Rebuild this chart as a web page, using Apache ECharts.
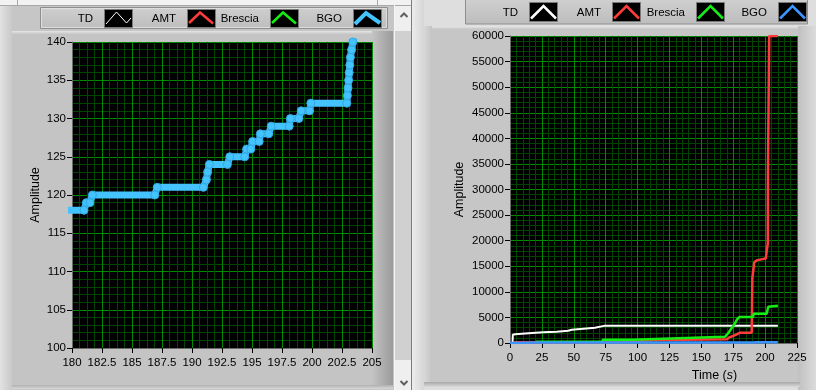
<!DOCTYPE html>
<html><head><meta charset="utf-8">
<script src="https://cdn.jsdelivr.net/npm/echarts/dist/echarts.min.js"></script>
<style>html,body{margin:0;padding:0;background:#c6c6c6;}#c{width:816px;height:390px;}</style>
</head><body><div id="c"></div>
<script>
// ---- data ----
const seriesNames = ['TD', 'AMT', 'Brescia', 'BGO'];
const leftXTicks = [180, 182.5, 185, 187.5, 190, 192.5, 195, 197.5, 200, 202.5, 205];
const leftYTicks = [100, 105, 110, 115, 120, 125, 130, 135, 140];
const rightXTicks = [0, 25, 50, 75, 100, 125, 150, 175, 200, 225];
const rightYTicks = [0, 5000, 10000, 15000, 20000, 25000, 30000, 35000, 40000, 45000, 50000, 55000, 60000];
// [time (s), amplitude]
const tdData = [[0,0],[2,0],[2.2,1600],[4,1700],[14.5,1900],[26,2100],[36.5,2200],[45.7,2400],[48.3,2600],[57.5,2800],[66.6,3000],[73.7,3350],[210,3350]];
const amtData = [[3,150],[74,150],[74.2,350],[89,350],[89.2,600],[118,600],[118.2,750],[170,750],[172,1100],[176,1500],[180,2000],[189.5,2000],[190,12700],[191.5,15800],[194,16200],[200.5,16500],[202,16600],[202.1,19500],[202.2,32800],[203.1,32800],[203.2,60000],[210,60000]];
const brData = [[20,250],[72,250],[73,650],[96,650],[96.5,850],[120,850],[121,1200],[168.5,1200],[171,1900],[174,3000],[176,3700],[178,4600],[180,5100],[190.5,5100],[191,5700],[201.2,5700],[202.5,7100],[203.5,7300],[210,7300]];
const bgoData = [[0,0],[1,60],[20,85],[75,100],[120,108],[170,115],[179.5,118],[181.0,118],[181.2,119],[181.5,119],[181.7,120],[186.9,120],[187.1,121],[190.95,121],[191.2,122],[191.3,123],[191.45,124],[192.95,124],[193.15,125],[194.4,125],[194.55,126],[194.9,126],[195.05,127],[195.6,127],[195.7,128],[196.4,128],[196.6,129],[198.1,129],[198.2,130],[198.9,130],[199.1,131],[199.8,131],[199.9,132],[202.9,132],[202.95,133],[203.0,134],[203.05,135],[203.1,136],[203.15,137],[203.2,138],[203.3,139],[203.4,140],[204,143],[210,150]];
const allData = [tdData, amtData, brData, bgoData];
const rightColors = ['#ffffff', '#ff3b3b', '#14ee14', '#3a96ff'];
const leftColors = ['#ffffff', '#ff3b3b', '#14ee14', '#45c3ff'];

const chart = echarts.init(document.getElementById('c'), null, {renderer: 'canvas'});
const FONT = '"Liberation Sans", Arial, sans-serif';
const major = '#008a00', minor = '#004600';
const plainNum = function (v) { return String(v); };

function xAxisCfg(idx, min, max, interval, split, name) {
  const a = {
    type: 'value', gridIndex: idx, min: min, max: max, interval: interval,
    axisLine: {show: true, onZero: false, lineStyle: {color: '#6a6a6a', width: 1}},
    axisTick: {show: true, length: 5, inside: false, lineStyle: {color: '#000'}},
    minorTick: {show: false, splitNumber: split},
    splitLine: {show: true, lineStyle: {color: major, width: 1}},
    minorSplitLine: {show: true, lineStyle: {color: minor, width: 1}},
    axisLabel: {color: '#000', fontFamily: FONT, fontSize: 11.5, margin: 9, formatter: plainNum}
  };
  if (name) {
    a.name = name; a.nameLocation = 'middle'; a.nameGap = 26;
    a.nameTextStyle = {color: '#000', fontFamily: FONT, fontSize: 12.5, padding: [0, 0, 0, 122],
      rich: {i: {fontStyle: 'italic', fontFamily: FONT, fontSize: 12.5, color: '#000'}}};
  }
  return a;
}
function yAxisCfg(idx, min, max, interval, split, gap) {
  return {
    type: 'value', gridIndex: idx, min: min, max: max, interval: interval,
    name: 'Amplitude', nameLocation: 'middle', nameGap: gap,
    nameTextStyle: {color: '#000', fontFamily: FONT, fontSize: 12.5},
    axisLine: {show: true, lineStyle: {color: '#6a6a6a', width: 1}},
    axisTick: {show: true, length: 5, lineStyle: {color: '#000'}},
    minorTick: {show: false, splitNumber: split},
    splitLine: {show: true, lineStyle: {color: major, width: 1}},
    minorSplitLine: {show: true, lineStyle: {color: minor, width: 1}},
    axisLabel: {color: '#000', fontFamily: FONT, fontSize: 11.5, margin: 6, formatter: plainNum}
  };
}

const series = [];
seriesNames.forEach(function (n, i) {
  const isBGO = (i === 3);
  series.push({
    name: n, type: 'line', xAxisIndex: 0, yAxisIndex: 0, data: allData[i], clip: true,
    showSymbol: isBGO, symbol: 'circle', symbolSize: 8,
    itemStyle: {color: leftColors[i], borderColor: '#2fa8e0', borderWidth: 1},
    lineStyle: {color: leftColors[i], width: isBGO ? 7 : 2, cap: 'round', join: 'round'},
    animation: false, z: 3 + i
  });
});
seriesNames.forEach(function (n, i) {
  series.push({
    name: n, type: 'line', xAxisIndex: 1, yAxisIndex: 1, data: allData[i], clip: true,
    showSymbol: false, symbol: 'none',
    lineStyle: {color: rightColors[i], width: i === 0 ? 2 : 2.5},
    itemStyle: {color: rightColors[i]},
    animation: false, z: 3 + i
  });
});

// ---- panel chrome (LabVIEW-like frames, legends, scrollbar) ----
const g = [];
function rect(x, y, w, h, fill, stroke, z) {
  g.push({type: 'rect', shape: {x: x, y: y, width: w, height: h}, style: {fill: fill, stroke: stroke || null, lineWidth: stroke ? 1 : 0}, z: z === undefined ? -10 : z, silent: true});
}
function grad(x, y, w, h, c1, c2, horiz, z) {
  g.push({type: 'rect', shape: {x: x, y: y, width: w, height: h},
    style: {fill: new echarts.graphic.LinearGradient(0, 0, horiz ? 1 : 0, horiz ? 0 : 1, [{offset: 0, color: c1}, {offset: 1, color: c2}])},
    z: z === undefined ? -10 : z, silent: true});
}
function poly(pts, color, w, z) {
  g.push({type: 'polyline', shape: {points: pts}, style: {stroke: color, lineWidth: w, fill: null, lineJoin: 'miter'}, z: z || 20, silent: true});
}
function txt(x, y, s, align) {
  g.push({type: 'text', x: x, y: y, style: {text: s, fill: '#000', font: '11.5px "Liberation Sans", Arial', align: align || 'right', verticalAlign: 'middle'}, z: 20, silent: true});
}
// window background pieces
rect(0, 0, 816, 390, '#c6c6c6', null, -20);
rect(0, 0, 412, 6, '#f2f2f2', null, -15);
g.push({type: 'line', shape: {x1: 0, y1: 5.5, x2: 412, y2: 5.5}, style: {stroke: '#a8a8a8', lineWidth: 1}, z: -14, silent: true});
g.push({type: 'line', shape: {x1: 17.5, y1: 0, x2: 17.5, y2: 6}, style: {stroke: '#a8a8a8', lineWidth: 1}, z: -14, silent: true});
g.push({type: 'line', shape: {x1: 377.5, y1: 0, x2: 377.5, y2: 6}, style: {stroke: '#a8a8a8', lineWidth: 1}, z: -14, silent: true});
grad(0, 6, 14, 384, '#e2e2e2', '#c4c4c4', true, -15);
// left graph frame
rect(12, 31, 381, 357, '#c4c4c4', null, -12);
grad(12, 31, 381, 3, '#e6e6e6', '#c8c8c8', false, -11);
grad(372, 31, 21, 357, '#c4c4c4', '#9a9a9a', true, -11);
grad(12, 385, 381, 4, '#b0b0b0', '#d8d8d8', false, -11);
// scrollbar
rect(394, 6, 18, 384, '#d0d0d0', null, -12);
rect(395, 6, 16, 25, '#efefef', null, -11);
rect(395, 360, 16, 30, '#efefef', null, -11);
g.push({type: 'line', shape: {x1: 394.5, y1: 0, x2: 394.5, y2: 390}, style: {stroke: '#f4f4f4', lineWidth: 1}, z: -10, silent: true});
g.push({type: 'line', shape: {x1: 411.5, y1: 0, x2: 411.5, y2: 390}, style: {stroke: '#7c7c7c', lineWidth: 1}, z: -10, silent: true});
poly([[400.5, 17], [404, 13.5], [407.5, 17]], '#606060', 2, -9);
poly([[400.5, 381], [404, 384.5], [407.5, 381]], '#606060', 2, -9);
// right panel background
rect(412, 0, 404, 390, '#dedede', null, -15);
grad(412, 0, 12, 390, '#ececec', '#d6d6d6', true, -14);
rect(424, 26, 376, 360, '#c6c6c6', null, -12);
grad(424, 26, 376, 3, '#e8e8e8', '#c8c8c8', false, -11);
grad(424, 26, 8, 360, '#d8d8d8', '#c4c4c4', true, -11);
grad(798, 26, 18, 364, '#c0c0c0', '#dcdcdc', true, -11);
grad(424, 382, 376, 5, '#a8a8a8', '#dadada', false, -11);

// left legend
grad(40, 7, 348, 22, '#cfcfcf', '#bdbdbd', false, -8);
rect(40.5, 7.5, 347, 21, null, '#8e8e8e', -7);
rect(41.5, 8.5, 345, 19, null, '#dedede', -7);
const lBoxes = [104, 187, 270, 353];
lBoxes.forEach(function (bx, i) {
  rect(bx + 0.5, 9.5, 28, 18, '#000', '#7a7a7a', 10);
  txt(bx - 11, 18.5, seriesNames[i], 'right');
});
poly([[106, 24], [116.5, 12], [126.5, 23], [131, 18]], '#ffffff', 1, 21);
poly([[189, 23], [200, 12.5], [213, 23.5]], '#ff3b3b', 2.5, 21);
poly([[272, 23], [283, 12.5], [296, 23.5]], '#14ee14', 2.5, 21);
poly([[355, 24], [366, 13], [380, 23]], '#45c3ff', 4, 21);

// right legend
grad(465, 0, 343, 24, '#cfcfcf', '#bdbdbd', false, -8);
rect(465.5, -1, 342, 25, null, '#8e8e8e', -7);
const rBoxes = [529, 612, 696, 778];
rBoxes.forEach(function (bx, i) {
  rect(bx + 0.5, 2.5, 28, 19, '#000', '#7a7a7a', 10);
  txt(bx - 11, 12.5, seriesNames[i], 'right');
  poly([[bx + 2, 18.5], [bx + 14.5, 6], [bx + 27, 18.5]], rightColors[i], 2.5, 21);
});

chart.setOption({
  backgroundColor: '#c6c6c6',
  animation: false,
  graphic: {elements: g},
  grid: [
    {left: 72, top: 42, width: 300, height: 306, show: true, backgroundColor: '#000', borderWidth: 0, containLabel: false},
    {left: 510, top: 36, width: 287, height: 307, show: true, backgroundColor: '#000', borderWidth: 0, containLabel: false}
  ],
  xAxis: [
    xAxisCfg(0, leftXTicks[0], leftXTicks[leftXTicks.length - 1], leftXTicks[1] - leftXTicks[0], 4, null),
    xAxisCfg(1, rightXTicks[0], rightXTicks[rightXTicks.length - 1], rightXTicks[1] - rightXTicks[0], 5, 'Time ({i|s})')
  ],
  yAxis: [
    yAxisCfg(0, leftYTicks[0], leftYTicks[leftYTicks.length - 1], leftYTicks[1] - leftYTicks[0], 5, 30),
    yAxisCfg(1, rightYTicks[0], rightYTicks[rightYTicks.length - 1], rightYTicks[1] - rightYTicks[0], 5, 44)
  ],
  series: series
});
</script></body></html>
